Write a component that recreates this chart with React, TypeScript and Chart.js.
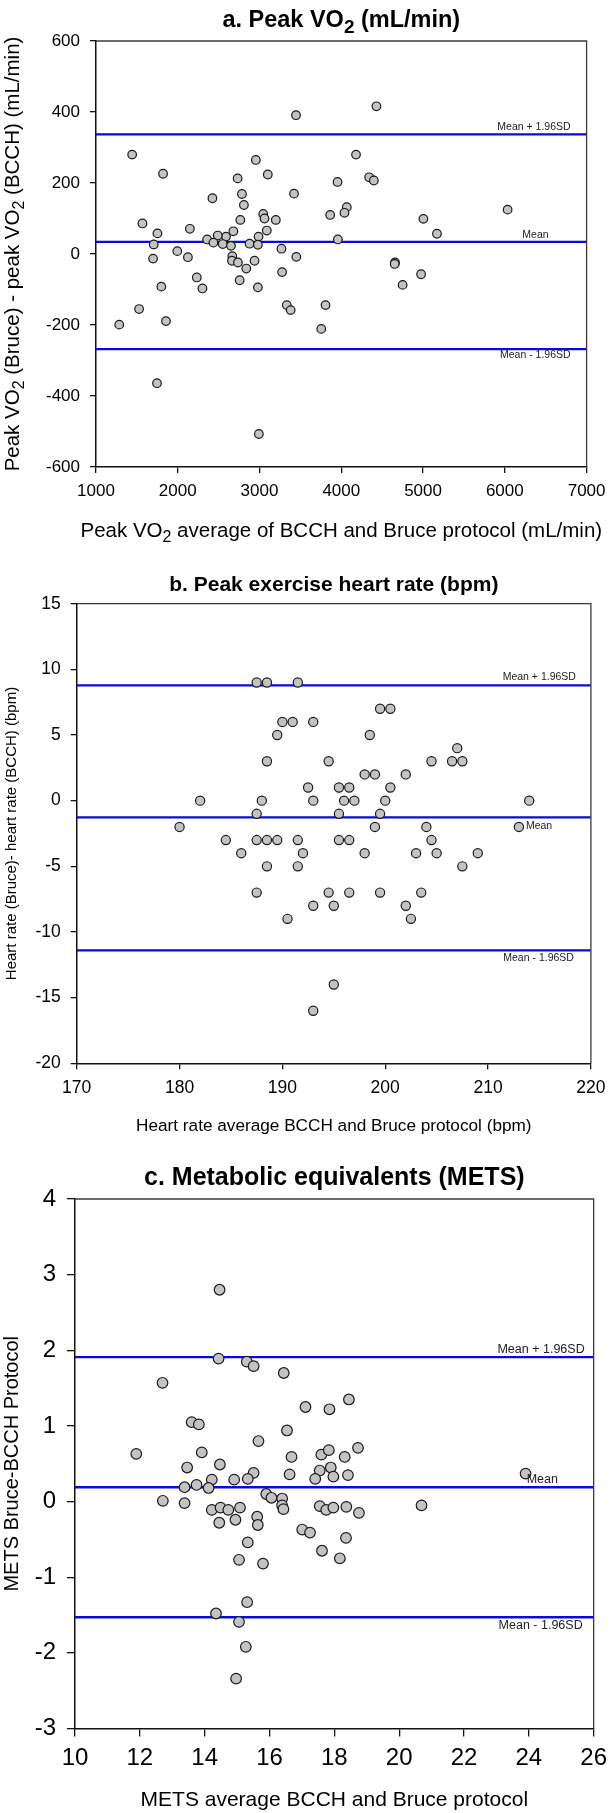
import React, { useEffect, useRef } from "react";
import { Chart, registerables } from "chart.js";

Chart.register(...registerables);

const FONT = '"Liberation Sans", Arial, Helvetica, sans-serif';

// ---------- Panel a: Peak VO2 (mL/min) ----------
const vo2Average = [3446, 1442, 1820, 2955, 3101, 2732, 3954, 3422, 2785, 2424, 2809, 4067, 4039, 3864, 3045, 3061, 2765, 3199, 1568, 2148, 1751, 3089, 2680, 2988, 2590, 2489, 2359, 3958, 1706, 2436, 2550, 2651, 2878, 2980, 1994, 3268, 1698, 2124, 3450, 2667, 2663, 2736, 2939, 2838, 3276, 2233, 2757, 1799, 2302, 2980, 3333, 3381, 3807, 1527, 1856, 1284, 3755, 1746, 2992, 4430, 4180, 4341, 4398, 6034, 5004, 5170, 4657, 4653, 4976, 4750];
const vo2Difference = [391, 280, 226, 265, 224, 213, 203, 170, 169, 157, 138, 132, 116, 110, 113, 100, 96, 96, 86, 71, 58, 66, 64, 49, 49, 52, 41, 41, 27, 32, 28, 23, 29, 26, 8, 15, -13, -9, -8, -6, -19, -24, -19, -41, -51, -66, -74, -92, -97, -94, -144, -158, -144, -155, -189, -199, -211, -364, -507, 416, 280, 216, 207, 125, 99, 57, -24, -28, -57, -87];
const vo2XTicks = [1000, 2000, 3000, 4000, 5000, 6000, 7000];
const vo2YTicks = [-600, -400, -200, 0, 200, 400, 600];
const vo2Limits = [337, 34, -268];

// ---------- Panel b: Peak exercise heart rate (bpm) ----------
const hrAverage = [187.5, 188.5, 191.5, 190, 191, 193, 189.5, 188.5, 194.5, 192.5, 182, 188, 193, 187.5, 180, 184.5, 187.5, 188.5, 189.5, 191.5, 186, 192, 188.5, 191.5, 187.5, 194.5, 193, 195, 190.5, 195, 193, 199.5, 200.5, 198.5, 207, 204.5, 206.5, 207.5, 198, 199, 202, 195.5, 196.5, 200.5, 196, 197, 200, 214, 195.5, 199.5, 199, 204, 213, 195.5, 196.5, 204.5, 198, 203, 205, 209, 207.5, 196.5, 199.5, 203.5, 202, 202.5];
const hrDifference = [9, 9, 9, 6, 6, 6, 5, 3, 3, 1, 0, 0, 0, -1, -2, -3, -3, -3, -3, -3, -4, -4, -5, -5, -7, -7, -8, -8, -9, -14, -16, 7, 7, 5, 4, 3, 3, 3, 2, 2, 2, 1, 1, 1, 0, 0, 0, 0, -1, -1, -2, -2, -2, -3, -3, -3, -4, -4, -4, -4, -5, -7, -7, -7, -8, -9];
const hrXTicks = [170, 180, 190, 200, 210, 220];
const hrYTicks = [-20, -15, -10, -5, 0, 5, 10, 15];
const hrLimits = [8.78, -1.27, -11.4];

// ---------- Panel c: Metabolic equivalents (METS) ----------
const metsAverage = [14.46, 14.43, 15.3, 15.51, 16.44, 12.7, 18.45, 17.11, 17.85, 13.6, 13.82, 16.54, 15.66, 11.89, 13.91, 16.68, 17.6, 17.83, 13.46, 14.47, 17.89, 15.51, 16.62, 17.55, 17.97, 14.22, 14.91, 15.33, 17.41, 13.38, 13.75, 14.12, 12.71, 13.38, 15.9, 16.06, 16.39, 16.39, 16.43, 14.22, 14.49, 14.73, 15.09, 17.55, 17.75, 17.97, 14.45, 14.95, 15.62, 15.64, 17.01, 17.25, 15.33, 17.62, 18.17, 15.06, 15.8, 15.31, 14.35, 15.06, 15.27, 14.97, 18.73, 18.32, 18.42, 23.9, 18.37, 18.76, 20.69, 18.36];
const metsDifference = [2.8, 1.89, 1.85, 1.79, 1.7, 1.57, 1.35, 1.25, 1.22, 1.05, 1.02, 0.94, 0.8, 0.63, 0.65, 0.59, 0.62, 0.68, 0.45, 0.49, 0.45, 0.38, 0.36, 0.41, 0.33, 0.29, 0.29, 0.3, 0.3, 0.19, 0.22, 0.18, 0.01, -0.02, 0.1, 0.05, 0.04, -0.05, -0.1, -0.11, -0.08, -0.11, -0.08, -0.06, -0.11, -0.08, -0.28, -0.24, -0.2, -0.31, -0.37, -0.41, -0.54, -0.65, -0.75, -0.77, -0.82, -1.33, -1.48, -1.59, -1.92, -2.34, 0.71, 0.59, 0.35, 0.37, -0.07, -0.15, -0.05, -0.48];
const metsXTicks = [10, 12, 14, 16, 18, 20, 22, 24, 26];
const metsYTicks = [-3, -2, -1, 0, 1, 2, 3, 4];
const metsLimits = [1.91, 0.19, -1.53];

const limitLabels = ["Mean + 1.96SD", "Mean", "Mean - 1.96SD"];

const W = 614;

type LabelSpec = { align: "left" | "right"; dx: number; dy: number };

interface PanelCfg {
  top: number;
  height: number;
  area: { left: number; right: number; top: number; bottom: number };
  xs: number[];
  ys: number[];
  xTicks: number[];
  yTicks: number[];
  limits: number[];
  title: string;
  xTitle: string;
  yTitle: string;
  titleSize: number;
  titleY: number;
  xTitleSize: number;
  xTitleY: number;
  yTitleSize: number;
  yTitleX: number;
  tickSize: number;
  tickLen: number;
  yPad: number;
  xPad: number;
  radius: number;
  labelSize: number;
  labelSpecs: LabelSpec[];
  lineWidth: number;
}

const panels: PanelCfg[] = [
  {
    top: 0,
    height: 560,
    area: { left: 96, right: 592, top: 41, bottom: 467 },
    xs: vo2Average,
    ys: vo2Difference,
    xTicks: vo2XTicks,
    yTicks: vo2YTicks,
    limits: vo2Limits,
    title: "a. Peak VO₂ (mL/min)",
    xTitle: "Peak VO₂ average of BCCH and Bruce protocol (mL/min)",
    yTitle: "Peak VO₂ (Bruce) - peak VO₂ (BCCH) (mL/min)",
    titleSize: 23.5,
    titleY: 21,
    xTitleSize: 20.5,
    xTitleY: 531.7,
    yTitleSize: 20.5,
    yTitleX: 13,
    tickSize: 17,
    tickLen: 6,
    yPad: 10,
    xPad: 8.5,
    radius: 4.3,
    labelSize: 10.5,
    labelSpecs: [
      { align: "right", dx: -16, dy: -7 },
      { align: "right", dx: -38, dy: -7 },
      { align: "right", dx: -16, dy: 6 },
    ],
    lineWidth: 2.2,
  },
  {
    top: 560,
    height: 580,
    area: { left: 76.7, right: 596.7, top: 43.7, bottom: 503.3 },
    xs: hrAverage,
    ys: hrDifference,
    xTicks: hrXTicks,
    yTicks: hrYTicks,
    limits: hrLimits,
    title: "b. Peak exercise heart rate (bpm)",
    xTitle: "Heart rate average BCCH and Bruce protocol (bpm)",
    yTitle: "Heart rate (Bruce)- heart rate (BCCH) (bpm)",
    titleSize: 21,
    titleY: 25,
    xTitleSize: 17.2,
    xTitleY: 566,
    yTitleSize: 15,
    yTitleX: 12,
    tickSize: 17.5,
    tickLen: 6,
    yPad: 10,
    xPad: 8.5,
    radius: 4.6,
    labelSize: 10.5,
    labelSpecs: [
      { align: "right", dx: -15, dy: -8.5 },
      { align: "left", dx: -65, dy: 8.4 },
      { align: "right", dx: -17, dy: 7.3 },
    ],
    lineWidth: 2.2,
  },
  {
    top: 1140,
    height: 673,
    area: { left: 75, right: 603.3, top: 59, bottom: 588.5 },
    xs: metsAverage,
    ys: metsDifference,
    xTicks: metsXTicks,
    yTicks: metsYTicks,
    limits: metsLimits,
    title: "c. Metabolic equivalents (METS)",
    xTitle: "METS average BCCH and Bruce protocol",
    yTitle: "METS Bruce-BCCH Protocol",
    titleSize: 25,
    titleY: 38.3,
    xTitleSize: 21,
    xTitleY: 660,
    yTitleSize: 20,
    yTitleX: 12,
    tickSize: 24,
    tickLen: 8,
    yPad: 11,
    xPad: 7,
    radius: 5.3,
    labelSize: 12.5,
    labelSpecs: [
      { align: "right", dx: -9, dy: -8 },
      { align: "left", dx: -67, dy: -8 },
      { align: "right", dx: -11, dy: 8 },
    ],
    lineWidth: 2.4,
  },
];

function drawRich(
  ctx: CanvasRenderingContext2D,
  text: string,
  x: number,
  y: number,
  size: number,
  bold: boolean,
  rotate: boolean
) {
  const segs: { t: string; sub: boolean }[] = [];
  for (const ch of text) {
    const sub = ch === "₂";
    const t = sub ? "2" : ch;
    const last = segs[segs.length - 1];
    if (last && last.sub === sub) last.t += t;
    else segs.push({ t, sub });
  }
  const w = bold ? "bold " : "";
  const mainF = `${w}${size}px ${FONT}`;
  const subF = `${w}${Math.round(size * 0.8)}px ${FONT}`;
  ctx.save();
  ctx.translate(x, y);
  if (rotate) ctx.rotate(-Math.PI / 2);
  ctx.textBaseline = "middle";
  ctx.textAlign = "left";
  ctx.fillStyle = "#000";
  let total = 0;
  const widths: number[] = [];
  for (const s of segs) {
    ctx.font = s.sub ? subF : mainF;
    const m = ctx.measureText(s.t).width;
    widths.push(m);
    total += m;
  }
  let cx = -total / 2;
  segs.forEach((s, i) => {
    ctx.font = s.sub ? subF : mainF;
    ctx.fillText(s.t, cx, s.sub ? size * 0.3 : 0);
    cx += widths[i];
  });
  ctx.restore();
}

function Panel({ cfg }: { cfg: PanelCfg }) {
  const ref = useRef<HTMLCanvasElement>(null);
  useEffect(() => {
    const canvas = ref.current;
    if (!canvas) return;
    const xMin = cfg.xTicks[0];
    const xMax = cfg.xTicks[cfg.xTicks.length - 1];
    const yMin = cfg.yTicks[0];
    const yMax = cfg.yTicks[cfg.yTicks.length - 1];

    const decor = {
      id: "decor" + cfg.top,
      afterDraw(chart: any) {
        const ctx: CanvasRenderingContext2D = chart.ctx;
        const a = chart.chartArea;
        const ys = chart.scales.y;
        ctx.save();
        ctx.strokeStyle = "#3a3a3a";
        ctx.lineWidth = 1.3;
        ctx.beginPath();
        ctx.moveTo(a.left, a.top);
        ctx.lineTo(a.right, a.top);
        ctx.lineTo(a.right, a.bottom);
        ctx.stroke();
        ctx.restore();
        ctx.save();
        ctx.fillStyle = "#222";
        ctx.font = `${cfg.labelSize}px ${FONT}`;
        ctx.textBaseline = "middle";
        cfg.limits.forEach((v, i) => {
          const spec = cfg.labelSpecs[i];
          ctx.textAlign = spec.align;
          ctx.fillText(limitLabels[i], a.right + spec.dx, ys.getPixelForValue(v) + spec.dy);
        });
        ctx.restore();
        const cxm = (a.left + a.right) / 2;
        const cym = (a.top + a.bottom) / 2;
        drawRich(ctx, cfg.title, cxm, cfg.titleY, cfg.titleSize, true, false);
        drawRich(ctx, cfg.xTitle, cxm, cfg.xTitleY, cfg.xTitleSize, false, false);
        drawRich(ctx, cfg.yTitle, cfg.yTitleX, cym, cfg.yTitleSize, false, true);
      },
    };

    const lineSets = cfg.limits.map((v) => ({
      type: "line" as const,
      data: [
        { x: xMin, y: v },
        { x: xMax, y: v },
      ],
      borderColor: "#0a0ad8",
      borderWidth: cfg.lineWidth,
      pointRadius: 0,
      showLine: true,
      fill: false,
      order: 2,
    }));

    const chart = new Chart(canvas, {
      type: "scatter",
      data: {
        datasets: [
          {
            type: "scatter" as const,
            data: cfg.xs.map((x, i) => ({ x, y: cfg.ys[i] })),
            pointRadius: cfg.radius,
            pointBackgroundColor: "#c3c3c3",
            pointBorderColor: "#1a1a1a",
            pointBorderWidth: 1.2,
            order: 0,
          },
          ...lineSets,
        ] as any,
      },
      options: {
        animation: false,
        responsive: false,
        devicePixelRatio: 1,
        events: [],
        layout: {
          padding: { top: cfg.area.top, right: W - cfg.area.right, left: 0, bottom: 0 },
        },
        plugins: {
          legend: { display: false },
          tooltip: { enabled: false },
          title: { display: false },
        },
        scales: {
          x: {
            type: "linear",
            min: xMin,
            max: xMax,
            afterBuildTicks: (s: any) => {
              s.ticks = cfg.xTicks.map((v) => ({ value: v }));
            },
            afterFit: (s: any) => {
              s.height = cfg.height - cfg.area.bottom;
            },
            ticks: {
              autoSkip: false,
              maxRotation: 0,
              color: "#000",
              padding: cfg.xPad,
              font: { family: FONT, size: cfg.tickSize },
              callback: (v: any) => `${v}`,
            },
            grid: {
              display: true,
              drawOnChartArea: false,
              drawTicks: true,
              tickLength: cfg.tickLen,
              color: "#111",
              lineWidth: 1.3,
            },
            border: { display: true, color: "#111", width: 1.5 },
          },
          y: {
            type: "linear",
            min: yMin,
            max: yMax,
            afterBuildTicks: (s: any) => {
              s.ticks = cfg.yTicks.map((v) => ({ value: v }));
            },
            afterFit: (s: any) => {
              s.width = cfg.area.left;
            },
            ticks: {
              autoSkip: false,
              color: "#000",
              padding: cfg.yPad,
              font: { family: FONT, size: cfg.tickSize },
              callback: (v: any) => `${v}`,
            },
            grid: {
              display: true,
              drawOnChartArea: false,
              drawTicks: true,
              tickLength: cfg.tickLen,
              color: "#111",
              lineWidth: 1.3,
            },
            border: { display: true, color: "#111", width: 1.5 },
          },
        },
      } as any,
      plugins: [decor],
    });
    return () => chart.destroy();
  }, [cfg]);
  return (
    <canvas
      ref={ref}
      width={W}
      height={cfg.height}
      style={{ position: "absolute", left: 0, top: cfg.top, width: W, height: cfg.height, display: "block" }}
    />
  );
}

export default function App() {
  return (
    <div style={{ position: "absolute", left: 0, top: 0, width: W, height: 1813, background: "#fff" }}>
      {panels.map((p) => (
        <Panel key={p.top} cfg={p} />
      ))}
    </div>
  );
}
